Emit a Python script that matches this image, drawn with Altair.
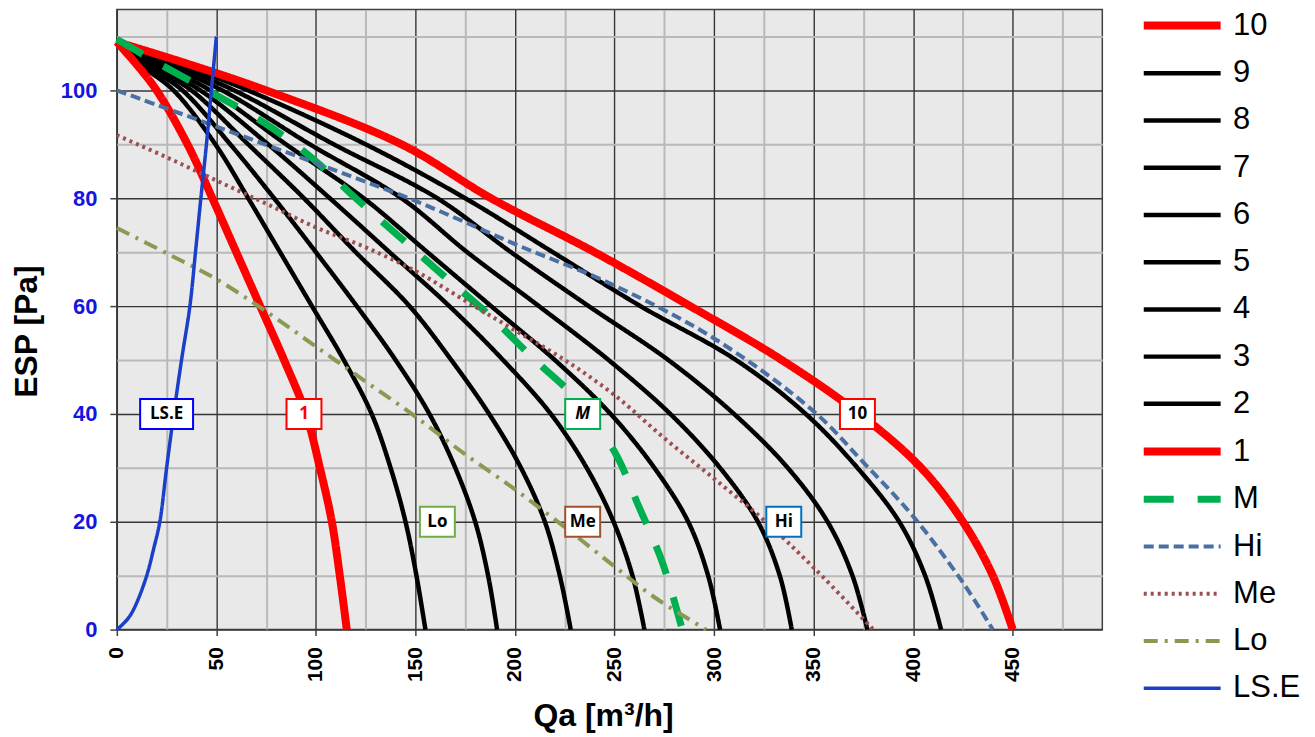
import altair as alt
import pandas as pd

# ---------------- data ----------------
# fan-speed curves 1..10: x (Qa) at these ESP levels
esp_levels = [109, 105, 100, 90, 80, 70, 60, 50, 40, 30, 20, 10, 0]
qa_1 = [0, 9.5, 20, 35.5, 48, 60, 72, 84, 95, 102, 108, 112, 115.5]
qa_2 = [0, 11, 28.5, 49.5, 66, 82, 98, 114, 128, 137.5, 145, 150.5, 155]
qa_3 = [0, 13, 33, 57, 79, 100, 120.5, 140, 157, 170, 180, 186.5, 191]
qa_4 = [0, 15, 37.5, 66, 94, 120, 147, 168, 187, 203, 215, 222.5, 228]
qa_5 = [0, 17, 42, 76, 107, 137, 167, 194, 218, 236, 249.5, 259, 265]
qa_6 = [0, 20, 47, 85, 124, 156, 188, 220, 248, 270, 287, 297, 303]
qa_7 = [0, 23, 53, 97, 143, 176, 212, 247, 278, 303, 322, 333, 339]
qa_8 = [0, 27, 59, 109, 161, 198, 237, 277, 310, 337, 357, 369.5, 377]
qa_9 = [0, 31, 66, 125, 175, 219, 263, 311, 346, 372, 393, 406, 414]
qa_10 = [0, 35, 75, 143, 188, 240, 288, 334, 373, 404, 425, 440, 450]

m_x = [0, 21, 48, 74, 98, 120, 143, 163, 188, 210, 229, 236, 250, 262, 274, 284]
m_y = [109.5, 105, 99.5, 94, 87.5, 80, 72.5, 66, 58, 50, 43.5, 40, 33, 23, 12.5, 0]

hi_x = [0, 50, 100, 150, 200, 250, 300, 350, 375, 400, 425, 440]
hi_y = [100, 93.3, 86.5, 79.5, 71.5, 63.8, 54, 40.5, 31, 21, 8.7, 0]

me_x = [0, 25, 50, 75, 100, 125, 150, 175, 200, 225, 250, 275, 300, 325, 350, 380]
me_y = [91.7, 87.6, 83.3, 79, 74.6, 70.9, 66.5, 61, 55.5, 50, 43.5, 35.5, 28, 20.3, 11.5, 0]

lo_x = [0, 25, 50, 75, 100, 125, 150, 175, 200, 225, 250, 270, 296]
lo_y = [74.5, 69.8, 65, 59, 52.5, 46, 39.5, 32.5, 26, 19, 11.7, 6, 0]

lse_x = [0, 3, 6.5, 10, 15, 18.5, 21.6, 25, 28.6, 32.5, 36.7, 39.5, 42.2, 45, 47.5, 50]
lse_y = [0, 1, 2.5, 5, 10, 15, 20, 30, 40, 50, 60, 70, 80, 90, 100, 110]

# in-plot labels
ann_text = ["LS.E", "1", "M", "10", "Lo", "Me", "Hi"]
ann_x = [25, 94, 234, 372, 161, 234, 335]
ann_y = [40, 40, 40, 40, 20, 20, 20]

# axis ticks
x_ticks = list(range(0, 476, 25))
y_ticks = list(range(0, 111, 10))

# ---------------- styles ----------------
legend_order = ["10", "9", "8", "7", "6", "5", "4", "3", "2", "1", "M", "Hi", "Me", "Lo", "LS.E"]
RED, BLK = "#ff0000", "#000000"
colors = [RED] + [BLK] * 8 + [RED, "#00b050", "#4a6fa3", "#9b4f50", "#8a9a52", "#1c3fc9"]
dashes = [[1, 0]] * 10 + [[30, 24], [10, 5], [3, 4], [14, 7, 3, 7], [1, 0]]
widths = [8] + [4.5] * 8 + [8, 7, 4, 4, 4, 3.5]

box_colors = ["#0000ff", "#ff0000", "#00b050", "#ff0000", "#70ad47", "#a0522d", "#0070c0"]
text_colors = ["#000000", "#ff0000", "#000000", "#000000", "#000000", "#000000", "#000000"]

# ---------------- long table ----------------
fan = {"1": qa_1, "2": qa_2, "3": qa_3, "4": qa_4, "5": qa_5, "6": qa_6,
       "7": qa_7, "8": qa_8, "9": qa_9, "10": qa_10}
rows = []
for s in ["2", "3", "4", "5", "6", "7", "8", "9", "1", "10"]:
    for i, (xv, yv) in enumerate(zip(fan[s], esp_levels)):
        rows.append({"series": s, "x": xv, "y": yv, "o": i})
for s, xs, ys in [("M", m_x, m_y), ("Hi", hi_x, hi_y), ("Me", me_x, me_y),
                  ("Lo", lo_x, lo_y), ("LS.E", lse_x, lse_y)]:
    for i, (xv, yv) in enumerate(zip(xs, ys)):
        rows.append({"series": s, "x": xv, "y": yv, "o": i})
df = pd.DataFrame(rows)
ann = pd.DataFrame({"label": ann_text, "x": ann_x, "y": ann_y})

xscale = alt.Scale(domain=[0, 495], nice=False, zero=False)
yscale = alt.Scale(domain=[0, 115], nice=False, zero=False)

major_x = "datum.value % 50 === 0"
major_y = "datum.value % 20 === 0"

x_axis = alt.Axis(
    values=x_ticks, title="Qa [m³/h]", labelExpr=f"{major_x} ? datum.label : ''",
    labelAngle=270, labelFont="Liberation Sans", labelFontWeight="bold", labelFontSize=21,
    labelColor="#000000", labelPadding=11, labelFlush=False, labelOverlap=False,
    tickSize=6, tickColor="#404040", tickWidth=1.5,
    tickOpacity={"condition": {"test": major_x, "value": 1}, "value": 0},
    grid=True,
    gridColor={"condition": {"test": major_x, "value": "#363636"}, "value": "#b9b9b9"},
    gridWidth={"condition": {"test": major_x, "value": 1.4}, "value": 2},
    domain=False,
    titleFont="Liberation Sans", titleFontWeight="bold", titleFontSize=32, titleColor="#000000",
    titleX=487, titleY=86, titleAlign="center", titleBaseline="middle", titleAngle=0,
)
y_axis = alt.Axis(
    values=y_ticks, title="ESP [Pa]", labelExpr=f"{major_y} ? datum.label : ''",
    labelFont="Liberation Sans", labelFontWeight="bold", labelFontSize=22,
    labelColor="#1515e0", labelPadding=13, labelFlush=False, labelOverlap=False,
    tickSize=7, tickColor="#404040", tickWidth=1.5,
    tickOpacity={"condition": {"test": major_y, "value": 1}, "value": 0},
    grid=True,
    gridColor={"condition": {"test": major_y, "value": "#363636"}, "value": "#b9b9b9"},
    gridWidth={"condition": {"test": major_y, "value": 1.4}, "value": 2},
    domain=False,
    titleFont="Liberation Sans", titleFontWeight="bold", titleFontSize=32, titleColor="#000000",
    titleX=-90, titleY=322, titleAlign="center", titleBaseline="middle", titleAngle=270,
)

lines = alt.Chart(df).mark_line(interpolate="catmull-rom", strokeCap="butt", strokeJoin="round").encode(
    x=alt.X("x:Q", scale=xscale, axis=x_axis),
    y=alt.Y("y:Q", scale=yscale, axis=y_axis),
    order="o:Q",
    color=alt.Color("series:N", scale=alt.Scale(domain=legend_order, range=colors),
                    legend=alt.Legend(title=None)),
    strokeDash=alt.StrokeDash("series:N", scale=alt.Scale(domain=legend_order, range=dashes),
                              legend=alt.Legend(title=None)),
    strokeWidth=alt.StrokeWidth("series:N", scale=alt.Scale(type="ordinal", domain=legend_order, range=widths),
                                legend=alt.Legend(title=None)),
    detail="series:N",
)

box_path = "M-1,-0.857L1,-0.857L1,0.857L-1,0.857Z"
wide_path = "M-1,-0.566L1,-0.566L1,0.566L-1,0.566Z"
stroke_enc = alt.Stroke("label:N", scale=alt.Scale(domain=ann_text, range=box_colors), legend=None)

boxes = alt.Chart(ann).transform_filter("datum.label !== 'LS.E'").mark_point(
    shape=box_path, size=1225, filled=False, fill="white", fillOpacity=1, opacity=1, strokeWidth=2
).encode(x=alt.X("x:Q", scale=xscale), y=alt.Y("y:Q", scale=yscale), stroke=stroke_enc)

box_wide = alt.Chart(ann).transform_filter("datum.label === 'LS.E'").mark_point(
    shape=wide_path, size=2809, filled=False, fill="white", fillOpacity=1, opacity=1, strokeWidth=2
).encode(x=alt.X("x:Q", scale=xscale), y=alt.Y("y:Q", scale=yscale), stroke=stroke_enc)

fill_enc = alt.Fill("label:N", scale=alt.Scale(domain=ann_text, range=text_colors), legend=None)
texts = alt.Chart(ann).transform_filter("datum.label !== 'M'").mark_text(
    font="Open Sans", fontWeight="bold", fontSize=17, baseline="middle", align="center"
).encode(x=alt.X("x:Q", scale=xscale), y=alt.Y("y:Q", scale=yscale), text="label:N", fill=fill_enc)
text_m = alt.Chart(ann).transform_filter("datum.label === 'M'").mark_text(
    font="Open Sans", fontWeight="bold", fontStyle="italic", fontSize=17, baseline="middle", align="center"
).encode(x=alt.X("x:Q", scale=xscale), y=alt.Y("y:Q", scale=yscale), text="label:N", fill=fill_enc)

chart = alt.layer(lines, boxes, box_wide, texts, text_m).properties(
    width=987, height=621,
    autosize=alt.AutoSizeParams(type="none"),
    padding={"left": 109, "top": 1, "right": 205, "bottom": 104},
).configure_view(
    fill="#e9e9e9", stroke="#404040", strokeWidth=1.5
).configure_legend(
    orient="none", legendX=1050, legendY=-1, padding=0,
    symbolType="M-3,0L3,0", symbolSize=659,
    labelFont="Liberation Sans", labelFontSize=31, labelColor="#000000", labelOffset=34,
    rowPadding=15.3, labelLimit=200,
)

chart.save("out.html", embed_options={"renderer": "svg", "actions": False})
